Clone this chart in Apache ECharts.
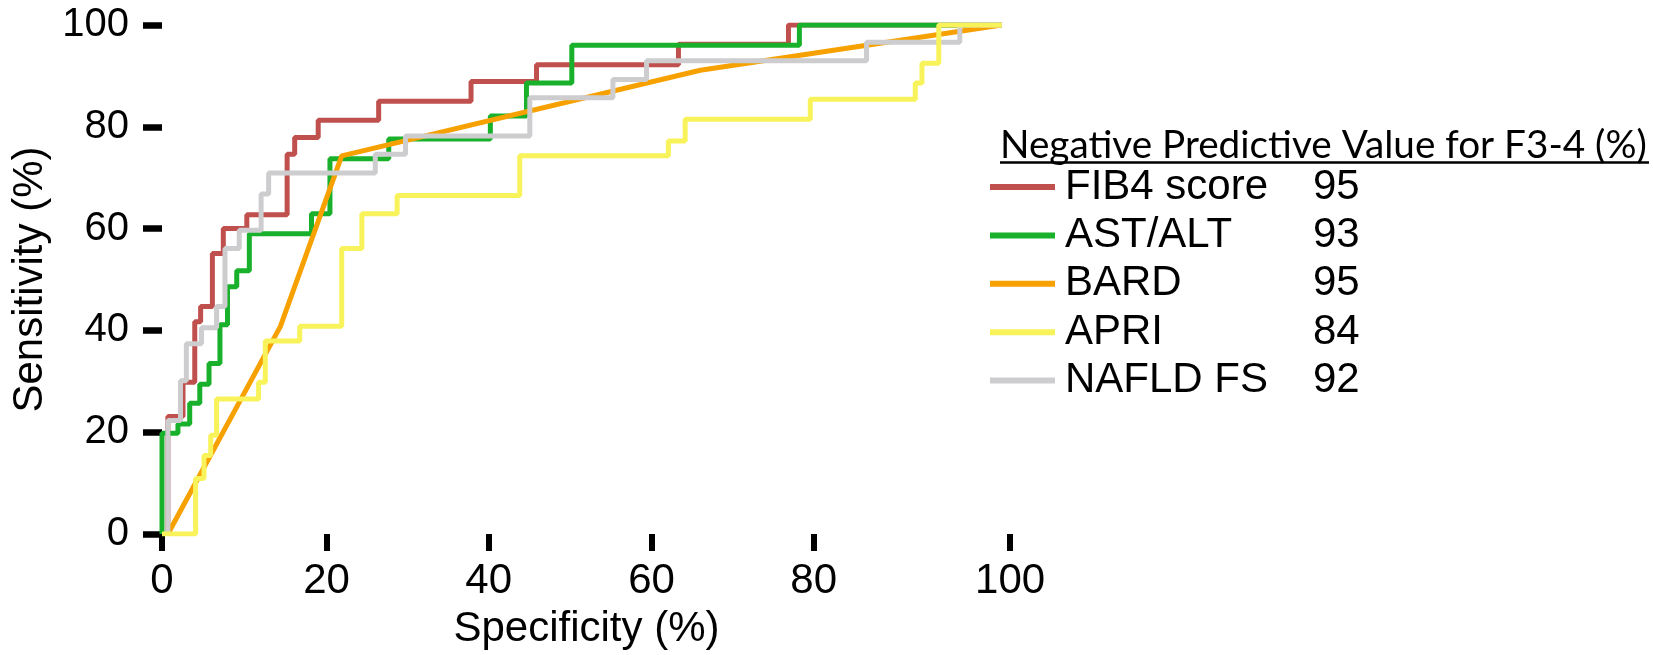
<!DOCTYPE html>
<html>
<head>
<meta charset="utf-8">
<script src="https://cdn.jsdelivr.net/npm/echarts@6/dist/echarts.min.js"></script>
<style>
  html, body { margin: 0; padding: 0; background: #fff; }
  #chart { width: 1653px; height: 655px; }
</style>
</head>
<body>
<div id="chart"></div>
<script>
// series names + negative predictive values shown in the legend
const seriesNames = ['FIB4 score', 'AST/ALT', 'BARD', 'APRI', 'NAFLD FS'];
const npvValues = [95, 93, 95, 84, 92];

// ROC points (specificity %, sensitivity %), step curves jump at each x
const fib4Spec = [0.7, 0.7, 2.5, 3.9, 4.6, 6.0, 7.3, 10.1, 14.9, 15.8, 18.6, 25.8, 36.8, 44.6, 61.5, 74.6, 100];
const fib4Sens = [0, 23.1, 29.8, 41.7, 44.7, 55.1, 60.0, 62.7, 74.6, 77.9, 81.3, 85.0, 88.9, 92.2, 96.2, 100, 100];

const astAltSpec = [0, 0, 1.9, 3.3, 4.5, 5.6, 6.9, 7.8, 8.9, 10.4, 17.8, 20.0, 27.0, 39.1, 43.4, 48.8, 75.9, 100];
const astAltSens = [0, 19.8, 21.6, 25.7, 29.4, 33.5, 41.1, 48.6, 51.7, 59.0, 62.9, 73.7, 77.6, 82.1, 88.6, 96.0, 100, 100];

const bardSpec = [0.7, 14.1, 21.4, 64.1, 100];
const bardSens = [0, 40.8, 74.3, 91.1, 100];

const apriSpec = [0, 4.0, 5.0, 5.8, 6.5, 11.5, 12.3, 16.4, 21.4, 23.8, 28.0, 42.6, 60.3, 62.3, 77.2, 89.7, 90.5, 92.5, 100];
const apriSens = [0, 10.9, 15.4, 19.4, 26.5, 29.8, 37.9, 40.8, 56.1, 62.9, 66.5, 74.3, 77.2, 81.5, 85.4, 88.6, 92.5, 100, 100];

const nafldSpec = [0.7, 0.7, 2.2, 2.9, 4.7, 6.5, 7.5, 9.2, 11.8, 12.7, 25.4, 29.0, 43.8, 53.7, 57.7, 83.9, 95.0, 100];
const nafldSens = [0, 22.3, 30.1, 37.4, 40.5, 44.7, 56.1, 59.7, 66.8, 70.9, 74.6, 78.2, 85.7, 89.3, 93.0, 96.6, 100, 100];

const xTickLabels = ['0', '20', '40', '60', '80', '100'];

// where the x tick marks sit in the original figure (they are not evenly spaced)
const xTickAt = [0, 19.6, 38.9, 58.3, 77.6, 101];

const colors = ['#C0504D', '#19B02B', '#F7A100', '#F8F35B', '#CDCDCF'];
const zOrder = [2, 3, 4, 6, 5];

const zip = (xs, ys) => xs.map((x, i) => [x, ys[i]]);
const curveData = [
  zip(fib4Spec, fib4Sens),
  zip(astAltSpec, astAltSens),
  zip(bardSpec, bardSens),
  zip(apriSpec, apriSens),
  zip(nafldSpec, nafldSens),
];

const font = "'Liberation Sans', Arial, sans-serif";

const myChart = echarts.init(document.getElementById('chart'));
myChart.setOption({
  animation: false,
  grid: {
    left: 162,
    right: 642,
    top: 25,
    bottom: 117.5,
  },
  xAxis: {
    type: 'value',
    min: 0,
    max: 101.1,
    axisLine: { show: false },
    splitLine: { show: false },
    axisTick: {
      show: true,
      length: 17,
      customValues: xTickAt,
      lineStyle: { color: '#000', width: 6 },
    },
    axisLabel: {
      customValues: xTickAt,
      margin: 26,
      fontSize: 42,
      fontFamily: font,
      color: '#000',
      formatter: (v) => {
        let best = 0;
        xTickAt.forEach((t, i) => {
          if (Math.abs(t - v) < Math.abs(xTickAt[best] - v)) best = i;
        });
        return xTickLabels[best];
      },
    },
    name: 'Specificity (%)',
    nameLocation: 'middle',
    nameGap: 74,
    nameTextStyle: { fontSize: 42, fontFamily: font, color: '#000' },
  },
  yAxis: {
    type: 'value',
    min: 0,
    max: 100,
    interval: 20,
    axisLine: { show: false },
    splitLine: { show: false },
    axisTick: {
      show: true,
      length: 19,
      lineStyle: { color: '#000', width: 6.5 },
    },
    axisLabel: {
      margin: 33,
      fontSize: 40,
      fontFamily: font,
      color: '#000',
      padding: [6, 0, 0, 0],
    },
    name: 'Sensitivity (%)',
    nameLocation: 'middle',
    nameGap: 108,
    nameTextStyle: { fontSize: 42, fontFamily: font, color: '#000' },
  },
  legend: {
    orient: 'vertical',
    left: 990,
    top: 166,
    padding: 0,
    itemGap: 6.4,
    itemWidth: 65,
    itemHeight: 6,
    icon: 'rect',
    selectedMode: false,
    data: seriesNames,
    formatter: (name) => `{n|${name}}{v|${npvValues[seriesNames.indexOf(name)]}}`,
    textStyle: {
      fontFamily: font,
      rich: {
        n: { width: 248, padding: [0, 0, 0, 5], fontSize: 42, lineHeight: 47, fontFamily: font, color: '#000' },
        v: { fontSize: 42, lineHeight: 47, fontFamily: font, color: '#000' },
      },
    },
  },
  graphic: [
    {
      type: 'text',
      left: 1000,
      top: 126,
      style: {
        text: 'Negative Predictive Value for F3-4 (%)',
        font: "38.7px 'Lato'",
        fill: '#000',
      },
    },
    {
      type: 'line',
      shape: { x1: 1000, y1: 162.5, x2: 1649, y2: 162.5 },
      style: { stroke: '#000', lineWidth: 2.5 },
    },
  ],
  series: seriesNames.map((name, i) => ({
    name: name,
    type: 'line',
    step: name === 'BARD' ? false : 'end',
    data: curveData[i],
    symbol: 'none',
    z: zOrder[i],
    color: colors[i],
    itemStyle: { color: colors[i] },
    lineStyle: { color: colors[i], width: 5 },
  })),
});
</script>
</body>
</html>
